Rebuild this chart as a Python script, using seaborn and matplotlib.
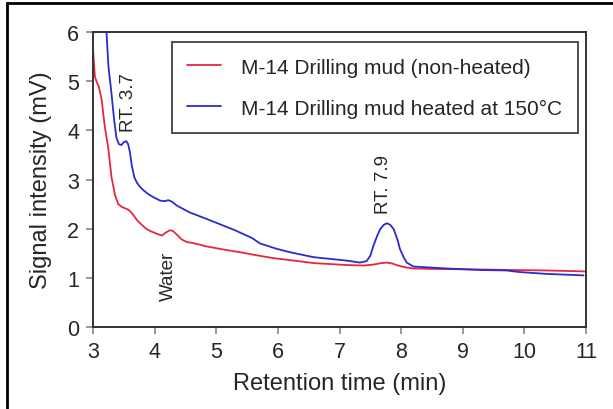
import matplotlib
matplotlib.use("Agg")
import pandas as pd
import seaborn as sns
from matplotlib import pyplot as plt
from matplotlib.patches import Rectangle

# non-heated drilling mud
red_x = [3.00, 3.03, 3.06, 3.09, 3.14, 3.19, 3.25, 3.30, 3.36, 3.41, 3.47, 3.55,
         3.60, 3.66, 3.71, 3.79, 3.87, 3.95, 4.05, 4.12, 4.18, 4.25, 4.30, 4.36,
         4.44, 4.52, 4.65, 4.84, 5.10, 5.39, 5.65, 5.93, 6.20, 6.58, 7.12, 7.39,
         7.55, 7.68, 7.77, 7.86, 7.95, 8.08, 8.20, 8.60, 9.28, 9.80, 10.36, 11.0]
red_y = [5.65, 5.10, 4.98, 4.91, 4.63, 4.09, 3.62, 3.05, 2.67, 2.50, 2.44, 2.40,
         2.36, 2.27, 2.18, 2.08, 1.99, 1.94, 1.89, 1.86, 1.92, 1.97, 1.95, 1.88,
         1.78, 1.73, 1.70, 1.64, 1.58, 1.52, 1.46, 1.40, 1.36, 1.30, 1.26, 1.25,
         1.27, 1.30, 1.31, 1.29, 1.25, 1.21, 1.19, 1.18, 1.17, 1.16, 1.15, 1.13]

# heated at 150 C
blue_x = [3.21, 3.25, 3.30, 3.34, 3.38, 3.42, 3.46, 3.50, 3.54, 3.57, 3.60, 3.63,
          3.67, 3.71, 3.77, 3.83, 3.90, 3.98, 4.09, 4.17, 4.22, 4.28, 4.36, 4.57,
          4.84, 5.12, 5.30, 5.44, 5.58, 5.71, 5.98, 6.20, 6.58, 7.12, 7.33, 7.44,
          7.50, 7.55, 7.61, 7.66, 7.72, 7.77, 7.82, 7.88, 7.94, 7.98, 8.04, 8.09,
          8.20, 8.74, 9.28, 9.71, 9.90, 10.36, 10.96]
blue_y = [6.20, 5.31, 4.75, 4.25, 3.85, 3.72, 3.70, 3.76, 3.78, 3.72, 3.55, 3.28,
          3.05, 2.94, 2.84, 2.77, 2.70, 2.64, 2.57, 2.56, 2.58, 2.55, 2.47, 2.33,
          2.20, 2.06, 1.97, 1.89, 1.81, 1.70, 1.59, 1.52, 1.42, 1.35, 1.31, 1.34,
          1.45, 1.65, 1.85, 1.99, 2.08, 2.11, 2.08, 1.99, 1.78, 1.59, 1.42, 1.31,
          1.23, 1.19, 1.16, 1.15, 1.12, 1.08, 1.05]

labels = ["M-14 Drilling mud (non-heated)", "M-14 Drilling mud heated at 150°C"]
peaks = ["RT. 3.7", "Water", "RT. 7.9"]
peak_x = [3.57, 4.23, 7.72]
peak_y = [4.59, 1.06, 2.91]

sns.set_style("ticks")
plt.rcParams["font.family"] = ["Liberation Sans", "DejaVu Sans"]

fig = plt.figure(figsize=(6.13, 4.10), dpi=100)
ax = fig.add_axes([0.1517, 0.2, 0.8043, 0.7195])

red = pd.DataFrame({"x": red_x, "y": red_y})
blue = pd.DataFrame({"x": blue_x, "y": blue_y})
sns.lineplot(data=red, x="x", y="y", color="#e3283f", lw=1.3, label=labels[0], ax=ax)
sns.lineplot(data=blue, x="x", y="y", color="#2b2bd0", lw=1.3, label=labels[1], ax=ax)

for t, px, py in zip(peaks, peak_x, peak_y):
    ax.text(px, py, t, rotation=90, ha="center", va="center", fontsize=13.5)

ax.set_xlim(3, 11)
ax.set_ylim(0, 6)
ax.set_xticks(range(3, 12))
ax.set_yticks(range(0, 7))
ax.set_xlabel("Retention time (min)", fontsize=17, labelpad=7)
ax.set_ylabel("Signal intensity (mV)", fontsize=17, labelpad=11)
ax.tick_params(labelsize=15.5, length=5, width=1.2, color="#888888", pad=5)
for s in ax.spines.values():
    s.set_color("#333333")
    s.set_linewidth(1.4)

leg = ax.legend(loc="upper right", bbox_to_anchor=(0.984, 0.966), borderaxespad=0,
                fontsize=15, frameon=True, fancybox=False, edgecolor="#222222",
                handlelength=1.6, handletextpad=1.0, labelspacing=1.05, borderpad=0.75)
leg.get_frame().set_linewidth(1.4)

fig.patches.append(Rectangle((7 / 613, -0.1), 1.2, 1.0 + 0.1 - 4 / 410,
                             transform=fig.transFigure, fill=False,
                             edgecolor="black", lw=2, clip_on=False))

fig.savefig("out.png", dpi=100)
